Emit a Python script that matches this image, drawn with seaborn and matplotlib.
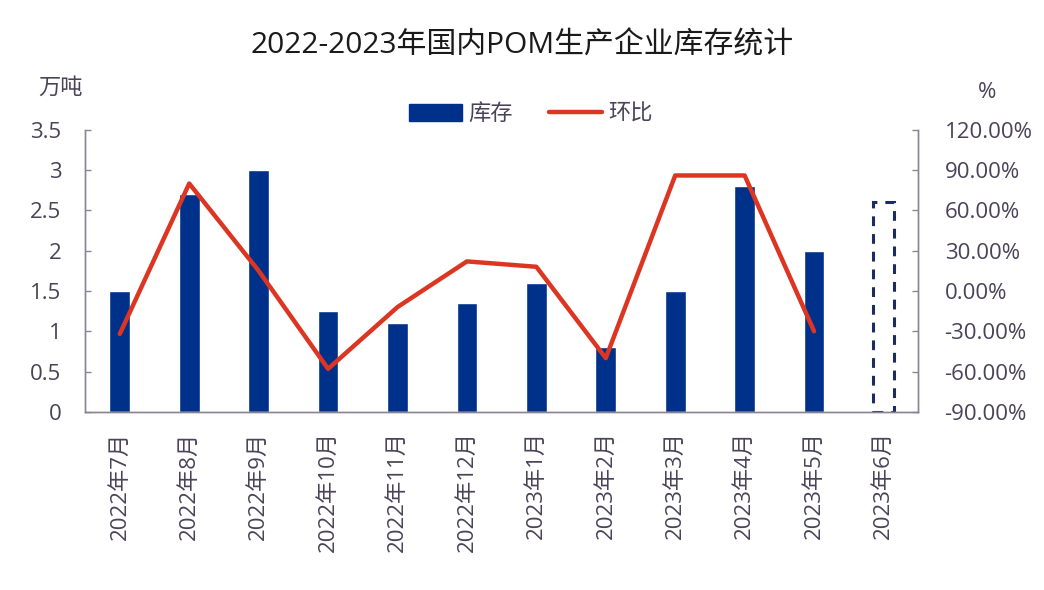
import numpy as np
import pandas as pd
import seaborn as sns
import matplotlib.pyplot as plt
from matplotlib.patches import Patch
from matplotlib.lines import Line2D
from matplotlib.ticker import FuncFormatter

# --- DATA ---
months = ['2022年7月', '2022年8月', '2022年9月', '2022年10月', '2022年11月', '2022年12月',
          '2023年1月', '2023年2月', '2023年3月', '2023年4月', '2023年5月', '2023年6月']
stock = [1.5, 2.7, 3.0, 1.25, 1.1, 1.35, 1.6, 0.8, 1.5, 2.8, 2.0, 2.6]   # 万吨, last one is a forecast
mom = [-32, 80, 15, -58, -12, 22, 18, -50, 86, 86, -30]                  # 环比 %, Jul..May
# -------------

BAR_COLOR = '#00318a'
LINE_COLOR = '#dc3522'
TEXT_COLOR = '#4a4358'
SPINE_COLOR = '#8a8595'
FS = 16

sns.set_theme(style='white')
plt.rcParams['font.family'] = ['Open Sans', 'Noto Sans CJK SC', 'DejaVu Sans']

df = pd.DataFrame({'month': months, 'stock': stock})

fig = plt.figure(figsize=(10.44, 5.9), dpi=100)
ax = fig.add_axes([0.0815, 0.302, 0.798, 0.478])

sns.barplot(data=df, x='month', y='stock', color=BAR_COLOR, saturation=1,
            width=0.30, ax=ax)

# last month is drawn as an empty dashed bar
last = ax.patches[len(months) - 1]
last.set_facecolor('none')
last.set_edgecolor('#1d2c5e')
last.set_linestyle((0, (3.2, 2.6)))
last.set_linewidth(2.2)

ax.set_ylim(0, 3.5)
ax.set_yticks(np.arange(0, 3.51, 0.5))
ax.yaxis.set_major_formatter(FuncFormatter(lambda v, p: f'{v:g}'))
ax.set_xlim(-0.5, len(months) - 0.5)
ax.set_xlabel('')
ax.set_ylabel('')
ax.set_xticks(np.arange(len(months)))
ax.set_xticklabels(months, rotation=90)
ax.set_xticks(np.arange(len(months)) + 0.5, minor=True)

ax2 = ax.twinx()
line_df = pd.DataFrame({'x': np.arange(len(mom)), 'mom': mom})
sns.lineplot(data=line_df, x='x', y='mom', color=LINE_COLOR, linewidth=3.2, ax=ax2)
ax2.set_ylim(-90, 120)
ax2.set_yticks(np.arange(-90, 121, 30))
ax2.yaxis.set_major_formatter(FuncFormatter(lambda v, p: f'{v:.2f}%'))
ax2.set_ylabel('')
ax2.set_xlim(-0.5, len(months) - 0.5)

for a in (ax, ax2):
    a.spines['top'].set_visible(False)
    for s in ('left', 'right', 'bottom'):
        a.spines[s].set_color(SPINE_COLOR)
        a.spines[s].set_linewidth(1.0)
    a.tick_params(labelsize=FS, colors=TEXT_COLOR, direction='in', length=4, width=1)

ax.tick_params(axis='x', which='major', length=0, pad=14)
ax.tick_params(axis='x', which='minor', direction='in', length=4, width=1, color=SPINE_COLOR)
ax.tick_params(axis='y', pad=17, colors=SPINE_COLOR, labelcolor=TEXT_COLOR)
ax2.tick_params(axis='y', pad=19, colors=SPINE_COLOR, labelcolor=TEXT_COLOR)

handles = [Patch(facecolor=BAR_COLOR, edgecolor=BAR_COLOR, label='库存'),
           Line2D([0], [0], color=LINE_COLOR, linewidth=3.2, label='环比')]
ax2.legend(handles=handles, loc='center', bbox_to_anchor=(0.535, 1.055), ncol=2,
           frameon=False, fontsize=FS, handlelength=2.4, handleheight=0.8,
           columnspacing=1.6, handletextpad=0.3, labelcolor=TEXT_COLOR)

fig.text(0.5, 0.922, '2022-2023年国内POM生产企业库存统计', ha='center', va='center',
         fontsize=21.5, color='#1a1a1a')
fig.text(0.058, 0.85, '万吨', ha='center', va='center', fontsize=FS, color=TEXT_COLOR)
fig.text(0.945, 0.843, '%', ha='center', va='center', fontsize=FS, color=TEXT_COLOR)

fig.savefig('out.png', dpi=100, facecolor='white')
